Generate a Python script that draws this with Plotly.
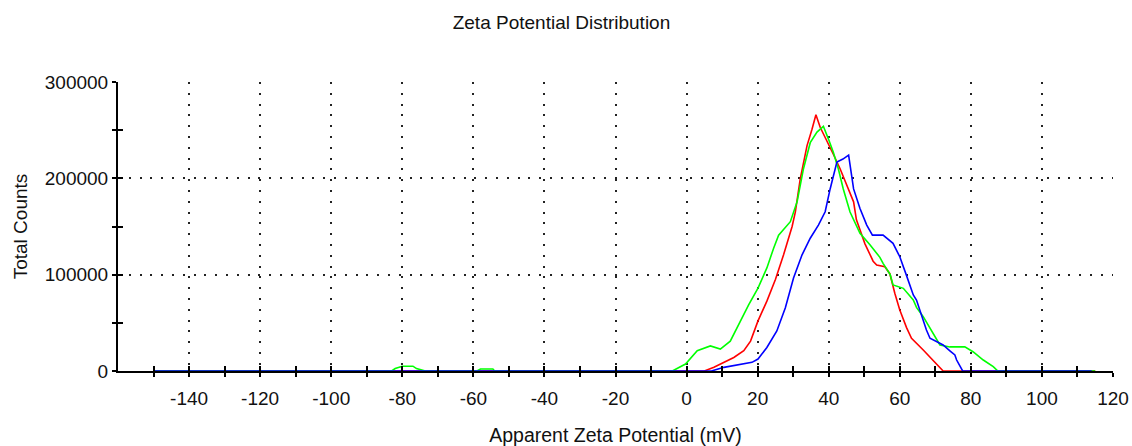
import plotly.graph_objects as go

# Zeta potential distributions (apparent zeta potential in mV, total counts)
red_mv = [-150, 5, 7.7, 10.5, 13.3, 16.1, 18, 20.1, 22.6, 25, 27.3, 29.7, 30.6, 32, 33.9, 35.3,
          36.4, 37.6, 39.5, 41.3, 43.2, 45.6, 47, 47.8, 50.2, 52.5, 53.5, 55.8, 57.2, 58.6, 60,
          61.9, 63.3, 66.6, 69.4, 71.7, 72.2, 115]
red_counts = [0, 0, 3800, 9000, 14000, 21000, 31000, 52000, 72500, 95000, 120600, 150000, 165000,
              199600, 234000, 251000, 266000, 253000, 239000, 225000, 210000, 189000, 175600,
              157000, 132000, 114000, 110000, 108300, 101000, 80700, 63300, 45000, 34000, 21800,
              11400, 2800, 0, 0]

green_mv = [-150, -83, -82, -80, -77, -76, -73.5, -59, -58, -54.5, -54, -4, -0.3, 3, 6.7, 9.5,
            12.3, 15.2, 17.5, 20.1, 22.6, 24.5, 25.9, 29.2, 31.1, 32.9, 34.8, 36.7, 38.5, 39.9,
            41.3, 42.7, 44.1, 46, 48.8, 51.6, 54.4, 55.3, 57.3, 58.1, 61, 63.8, 64.7, 66.6, 69.4,
            71.3, 74.1, 78.3, 80.6, 83.5, 86.3, 87.6, 115]
green_counts = [0, 0, 2500, 5000, 5000, 2500, 0, 0, 2000, 2000, 0, 0, 7200, 21000, 26000, 22700,
                31000, 52000, 69000, 86000, 107000, 127500, 141000, 155000, 175600, 210000,
                237000, 248000, 254000, 241000, 227000, 210000, 189000, 165000, 143000, 131000,
                118000, 111800, 100000, 89300, 85800, 73700, 66000, 56400, 39100, 27000, 25000,
                25000, 20000, 11400, 4500, 0, 0]

blue_mv = [-150, 7, 10.5, 15.2, 18.4, 20.1, 22.6, 25.4, 27.8, 30.1, 32.5, 34.8, 37.1, 39, 40.4,
           42.3, 44, 45.6, 47, 48.8, 50.7, 52.3, 55.3, 58.1, 60, 61.9, 63.8, 64.7, 65.7, 67.5,
           68.5, 70.3, 72.2, 74.1, 75.5, 76, 77.7, 114]
blue_counts = [0, 0, 3800, 7200, 9000, 12400, 24400, 41600, 65600, 96500, 120600, 137800, 151500,
               165300, 189000, 216800, 220000, 224000, 189000, 168700, 151500, 141000, 141000,
               132500, 118600, 99000, 79000, 73700, 62000, 42600, 34000, 30400, 27000, 21000,
               16600, 11400, 0, 0]

x_major = [-140, -120, -100, -80, -60, -40, -20, 0, 20, 40, 60, 80, 100, 120]
x_minor = [-150, -130, -110, -90, -70, -50, -30, -10, 10, 30, 50, 70, 90, 110]
y_major = [0, 100000, 200000, 300000]
y_minor = [50000, 150000, 250000]

FONT = "Liberation Sans, Arial, sans-serif"
TXT = "#111111"
FS = 19

fig = go.Figure()
for xs, ys, col in [(red_mv, red_counts, "#ff0000"),
                    (green_mv, green_counts, "#00ff00"),
                    (blue_mv, blue_counts, "#0000ff")]:
    fig.add_trace(go.Scatter(x=xs, y=ys, mode="lines", showlegend=False,
                             line=dict(color=col, width=1.6), hoverinfo="skip"))

# empty trace so the overlaid inner-tick axes are rendered
fig.add_trace(go.Scatter(x=[], y=[], xaxis="x2", yaxis="y2", showlegend=False))

grid = dict(showgrid=True, gridcolor="#222222", gridwidth=2, griddash="2px,8.8px")

fig.update_layout(
    template="none",
    width=1132, height=446,
    margin=dict(l=118, r=19, t=82, b=75, pad=0),
    paper_bgcolor="white", plot_bgcolor="white",
    font=dict(family=FONT, size=FS, color=TXT),
    title=dict(text="Zeta Potential Distribution", x=0.496, xref="container", xanchor="center",
               y=0.95, yref="container", yanchor="middle",
               font=dict(family=FONT, size=FS, color=TXT)),
    xaxis=dict(range=[-160, 120], tickvals=x_major, ticktext=[str(v) for v in x_major],
               ticks="outside", ticklen=4, tickwidth=2, tickcolor="black", automargin=False,
               minor=dict(tickvals=x_minor, ticks="outside", ticklen=4, tickwidth=2,
                          tickcolor="black", showgrid=False),
               showline=True, linecolor="black", linewidth=2, zeroline=False,
               ticklabelstandoff=5, tickfont=dict(size=FS, color=TXT),
               title=dict(text="Apparent Zeta Potential (mV)", standoff=21,
                          font=dict(size=19.5, color=TXT)),
               **grid),
    yaxis=dict(range=[0, 300000], tickvals=y_major, ticktext=[str(v) for v in y_major],
               ticks="outside", ticklen=4, tickwidth=2, tickcolor="black", automargin=False,
               minor=dict(tickvals=y_minor, ticks="outside", ticklen=4, tickwidth=2,
                          tickcolor="black", showgrid=False),
               showline=True, linecolor="black", linewidth=2, zeroline=False,
               ticklabelstandoff=0, tickfont=dict(size=FS, color=TXT),
               title=dict(text="Total Counts", standoff=12, font=dict(size=FS, color=TXT)),
               **grid),
    xaxis2=dict(range=[-160, 120], overlaying="x", anchor="y2", tickvals=x_major + x_minor,
                ticks="inside", ticklen=5, tickwidth=2, tickcolor="black", automargin=False,
                showticklabels=False, showgrid=False, zeroline=False, showline=False),
    yaxis2=dict(range=[0, 300000], overlaying="y", anchor="x2", tickvals=y_major + y_minor,
                ticks="inside", ticklen=5, tickwidth=2, tickcolor="black", automargin=False,
                showticklabels=False, showgrid=False, zeroline=False, showline=False),
)

fig.write_html("out.html")
